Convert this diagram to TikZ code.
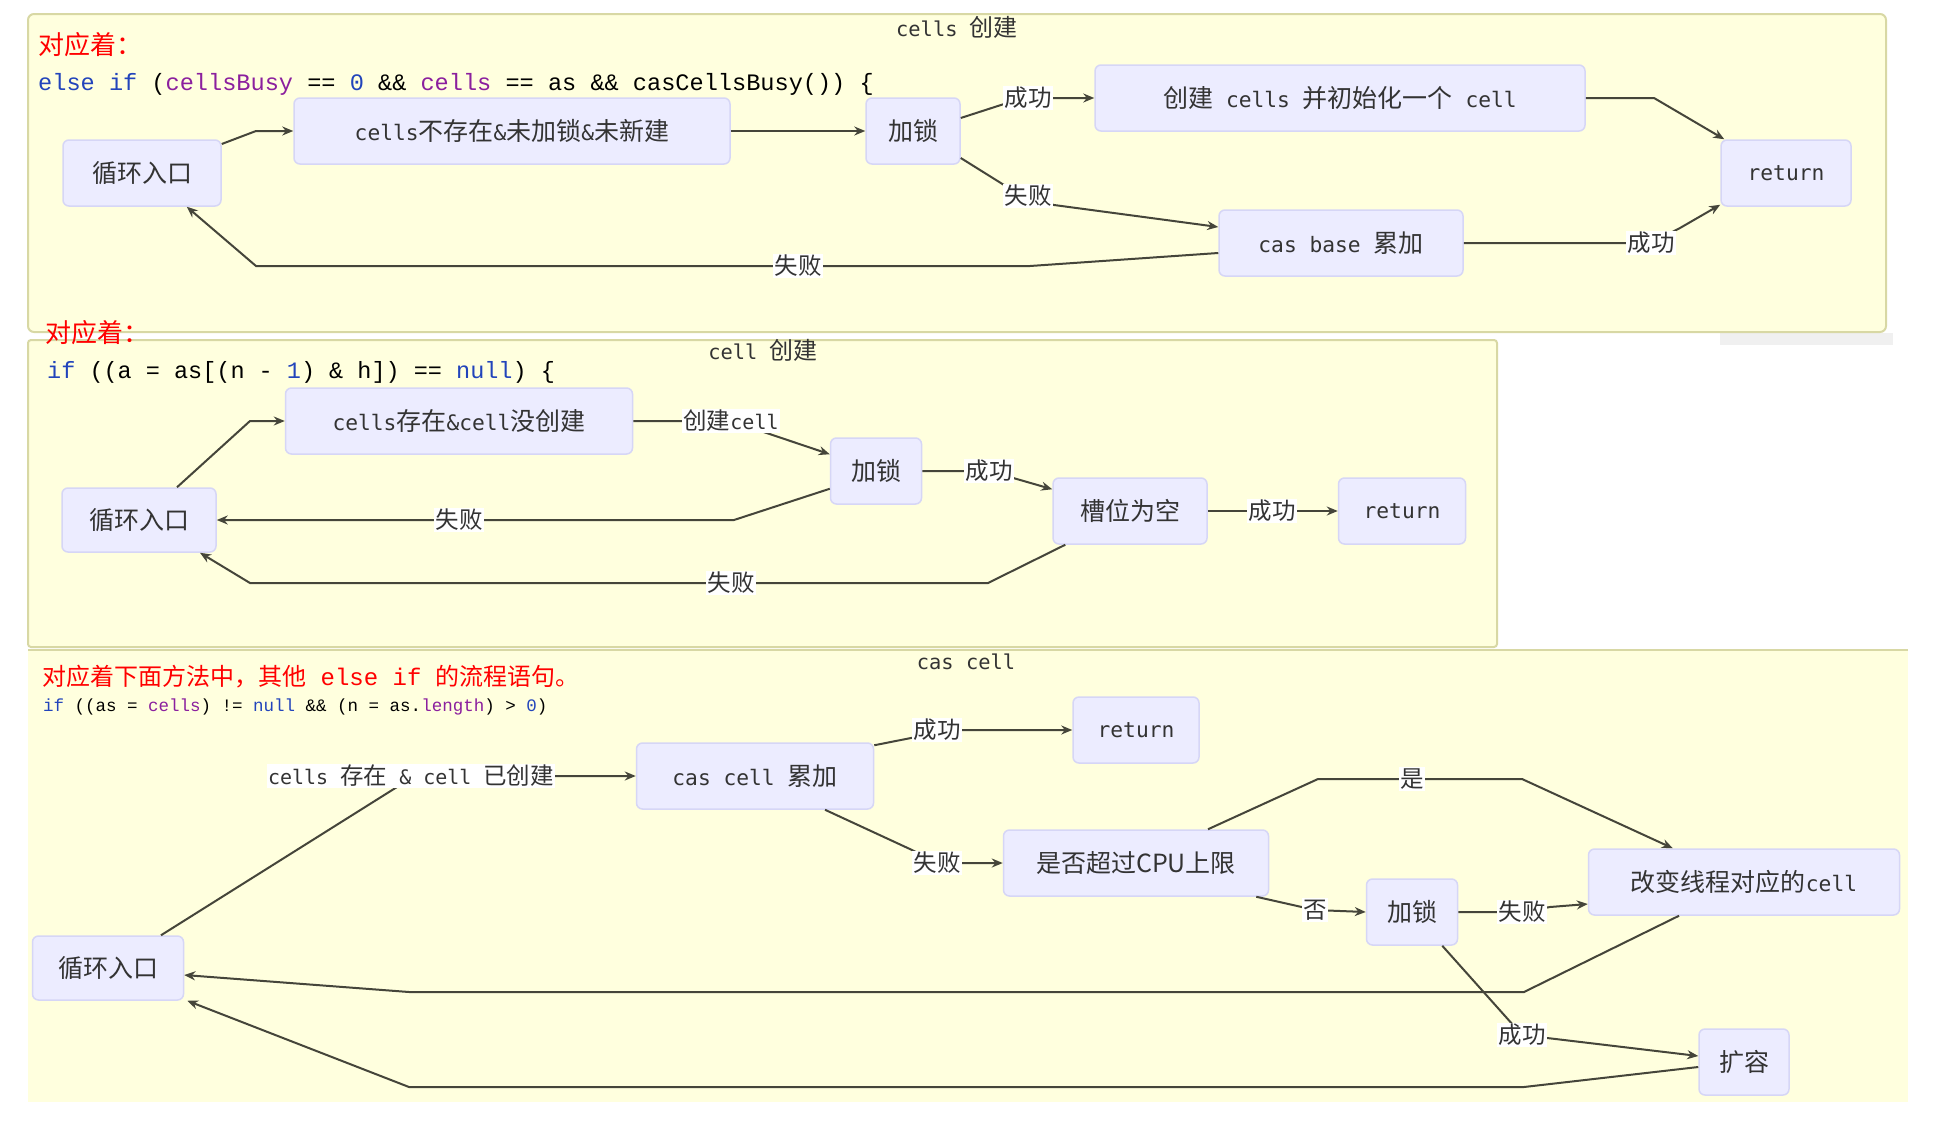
\documentclass[tikz,border=0pt]{standalone}
\usepackage{fontspec}
\setmainfont{Noto Sans CJK SC}
\newfontfamily\mono[Scale=0.85]{DejaVu Sans Mono}
\newfontfamily\codefont{Liberation Mono}
\usetikzlibrary{calc,arrows.meta}

\definecolor{panelfill}{HTML}{FFFFDE}
\definecolor{panelline}{HTML}{D8D8A4}
\definecolor{boxfill}{HTML}{ECECFF}
\definecolor{boxline}{HTML}{D6D6F6}
\definecolor{flowline}{HTML}{45453A}
\definecolor{txt}{HTML}{333333}
\definecolor{kwblue}{HTML}{2244BB}
\definecolor{varpurple}{HTML}{8B1F9E}

\newcommand{\lat}[1]{{\mono #1}}
\newcommand{\kw}[1]{\textcolor{kwblue}{#1}}
\newcommand{\va}[1]{\textcolor{varpurple}{#1}}

\tikzset{
    panel/.style={fill=panelfill, draw=panelline, line width=2pt},
    box/.style={rectangle, rounded corners=6pt, fill=boxfill, draw=boxline,
        line width=1.5pt, text=txt, inner sep=0pt, minimum height=66pt,
        font=\fontsize{25}{30}\selectfont},
    lbl/.style={fill=white, text=txt, inner sep=1.5pt, font=\fontsize{23.5}{28}\selectfont},
    flow/.style={draw=flowline, line width=2pt, -{Stealth[length=11pt,width=9pt]}},
    title/.style={text=txt, inner sep=0pt, font=\fontsize{24}{28}\selectfont},
    head/.style={text=red, anchor=west, inner sep=0pt},
    code/.style={text=black, anchor=west, inner sep=0pt}
}

\begin{document}
\begin{tikzpicture}[x=1pt, y=-1pt]
        % page and the three panels
        \useasboundingbox (0,0) rectangle (1945,1135);
        \fill[white] (0,0) rectangle (1945,1135);
        \fill[black!6] (1720,333) rectangle (1893,345);
        \draw[panel, rounded corners=6pt] (28,14) rectangle (1886,332);
        \draw[panel, rounded corners=3pt] (28,340) rectangle (1497,647);
        \fill[panelfill] (28,650) rectangle (1908,1102);
        \draw[panelline, line width=2pt] (28,650) -- (1908,650);

        % titles, headings and code
        \node[title] at (957,27)(t1){\lat{cells\ }创建};
        \node[title] at (763,350)(t2){\lat{cell\ }创建};
        \node[title] at (966,662)(t3){\lat{cas cell}};
        \node[head, font=\fontsize{26}{30}\selectfont] at (38,45)(h1){对应着：};
        \node[head, font=\fontsize{26}{30}\selectfont] at (45,333)(h2){对应着：};
        \node[head, font=\fontsize{24}{28}\selectfont] at (42,677)(h3){对应着下面方法中，其他{\codefont\ else if\ }的流程语句。};
        \node[code, font=\codefont\fontsize{23.6}{28}\selectfont] at (38,84)(c1)
            {\kw{else if} (\va{cellsBusy} == \kw{0} \&\& \va{cells} == as \&\& casCellsBusy()) \{};
        \node[code, font=\codefont\fontsize{23.5}{28}\selectfont] at (47,372)(c2)
            {\kw{if} ((a = as[(n - \kw{1}) \& h]) == \kw{null}) \{};
        \node[code, font=\codefont\fontsize{17.5}{22}\selectfont] at (43,707)(c3)
            {\kw{if} ((as = \va{cells}) != \kw{null} \&\& (n = as.\va{length}) > \kw{0})};

        % cells 创建
        \node[box, minimum width=158pt] at (142,173)(loop1){循环入口};
        \node[box, minimum width=436pt] at (512,131)(nocells){\lat{cells}不存在\lat{\&}未加锁\lat{\&}未新建};
        \node[box, minimum width=94pt] at (913,131)(lock1){加锁};
        \node[box, minimum width=490pt] at (1340,98)(init){创建\lat{\ cells\ }并初始化一个\lat{\ cell}};
        \node[box, minimum width=130pt] at (1786,173)(ret1){\lat{return}};
        \node[box, minimum width=244pt] at (1341,243)(casbase){\lat{cas base\ }累加};

        \draw[flow] ($(loop1.east)+(0,-29)$) -- (256,131) -- (nocells.west);
        \draw[flow] (nocells.east) -- (lock1.west);
        \draw[flow] ($(lock1.east)+(0,-13)$) -- (1004,104) -- (1028,98) node[lbl]{成功} -- (init.west);
        \draw[flow] ($(lock1.east)+(0,27)$) -- (1004,185) -- (1028,196) node[lbl]{失败} -- (1054,205) -- ($(casbase.west)+(0,-16)$);
        \draw[flow] ($(casbase.west)+(0,10)$) -- (1030,266) -- (798,266) node[lbl]{失败} -- (256,266) -- ($(loop1.south east)+(-35,0)$);
        \draw[flow] (init.east) -- (1654,98) -- ($(ret1.north west)+(4,0)$);
        \draw[flow] (casbase.east) -- (1651,243) node[lbl]{成功} -- (1680,228) -- ($(ret1.south west)+(0,-2)$);

        % cell 创建
        \node[box, minimum width=154pt, minimum height=64pt] at (139,520)(loop2){循环入口};
        \node[box, minimum width=347pt] at (459,421)(nocell){\lat{cells}存在\lat{\&cell}没创建};
        \node[box, minimum width=91pt] at (876,471)(lock2){加锁};
        \node[box, minimum width=154pt] at (1130,511)(slot){槽位为空};
        \node[box, minimum width=127pt] at (1402,511)(ret2){\lat{return}};

        \draw[flow] ($(loop2.north)+(38,0)$) -- (250,421) -- (nocell.west);
        \draw[flow] (nocell.east) -- (731,421) node[lbl]{创建\lat{cell}} -- ($(lock2.north west)+(0,17)$);
        \draw[flow] ($(lock2.south west)+(0,-16)$) -- (734,520) -- (459,520) node[lbl]{失败} -- (loop2.east);
        \draw[flow] (lock2.east) -- (989,471) node[lbl]{成功} -- ($(slot.north west)+(0,12)$);
        \draw[flow] ($(slot.south west)+(13,0)$) -- (988,583) -- (731,583) node[lbl]{失败} -- (250,583) -- ($(loop2.south)+(61,0)$);
        \draw[flow] (slot.east) -- (1272,511) node[lbl]{成功} -- (ret2.west);

        % cas cell
        \node[box, minimum width=151pt, minimum height=64pt] at (108,968)(loop3){循环入口};
        \node[box, minimum width=237pt] at (755,776)(casadd){\lat{cas cell\ }累加};
        \node[box, minimum width=126pt] at (1136,730)(ret3){\lat{return}};
        \node[box, minimum width=265pt] at (1136,863)(cpu){是否超过CPU上限};
        \node[box, minimum width=91pt] at (1412,912)(lock3){加锁};
        \node[box, minimum width=311pt] at (1744,882)(rehash){改变线程对应的\lat{cell}};
        \node[box, minimum width=90pt] at (1744,1062)(grow){扩容};

        \draw[flow] ($(loop3.north)+(53,0)$) -- (397,787) -- (411,776) node[lbl]{\lat{cells\ }存在\lat{\ \&\ cell\ }已创建} -- (casadd.west);
        \draw[flow] ($(casadd.north east)+(0,3)$) -- (916,737) -- (937,730) node[lbl]{成功} -- (ret3.west);
        \draw[flow] ($(casadd.south)+(70,0)$) -- (912,850) -- (937,863) node[lbl]{失败} -- (cpu.west);
        \draw[flow] ($(cpu.north)+(72,0)$) -- (1318,779) -- (1412,779) node[lbl]{是} -- (1522,779) -- ($(rehash.north west)+(85,0)$);
        \draw[flow] ($(cpu.south east)+(-13,0)$) -- (1315,910) node[lbl]{否} -- (lock3.west);
        \draw[flow] (lock3.east) -- (1522,912) node[lbl]{失败} -- (1550,907) -- ($(rehash.west)+(0,22)$);
        \draw[flow] ($(rehash.south)+(-65,0)$) -- (1524,992) -- (409,992) -- ($(loop3.east)+(0,7)$);
        \draw[flow] ($(lock3.south east)+(-16,0)$) -- (1522,1035) node[lbl]{成功} -- ($(grow.west)+(0,-6)$);
        \draw[flow] ($(grow.west)+(0,5)$) -- (1524,1087) -- (409,1087) -- ($(loop3.south east)+(3,0)$);
    \end{tikzpicture}
\end{document}
